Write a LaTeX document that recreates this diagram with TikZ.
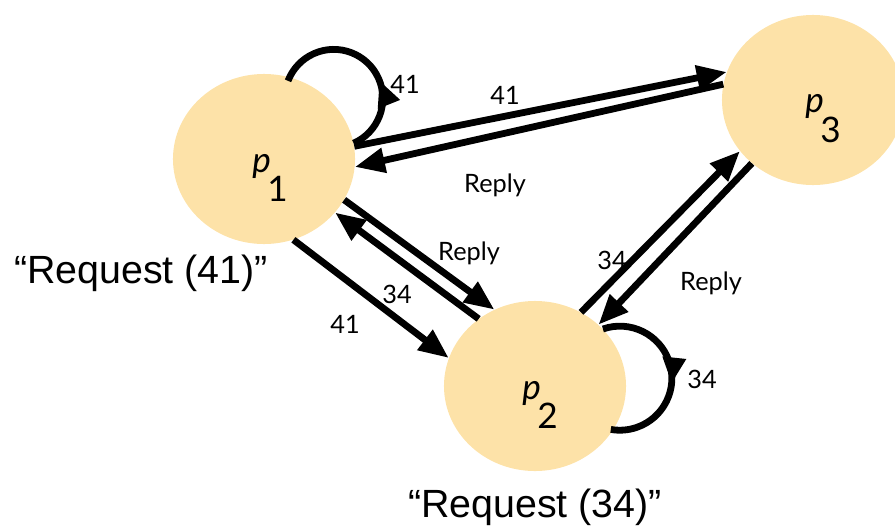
\documentclass[tikz,border=0pt]{standalone}
\usepackage{fontspec}
\setmainfont{Lato}
\newfontfamily\reqfont{Liberation Sans}
\usetikzlibrary{arrows.meta,shapes.geometric,decorations.markings}
\definecolor{peach}{RGB}{253,226,168}
\newcommand{\pname}[1]{{\itshape p}\kern-0.1em\raisebox{-0.85em}{#1}}
\tikzset{
	proc/.style={ellipse,fill=peach,minimum width=4.55cm,minimum height=4.25cm,inner sep=0pt},
	msg/.style={line width=0.17cm,-{Triangle[length=0.75cm,width=0.6cm]}},
	loopmsg/.style={line width=0.17cm,postaction={decorate},
		decoration={markings,mark=at position #1 with {\arrow{Triangle[length=0.65cm,width=0.55cm]}}}},
	lbl/.style={anchor=base,font=\fontsize{18}{20}\selectfont,inner sep=0pt},
	plbl/.style={font=\fontsize{25}{27}\selectfont,inner sep=0pt},
	req/.style={anchor=base,font=\reqfont\fontsize{28}{30}\selectfont,inner sep=0pt}
}
\begin{document}
\begin{tikzpicture}[x=0.025cm,y=-0.025cm]
		\useasboundingbox (0,0) rectangle (895,527);
		
		\node[proc] (p1) at (264,159) {};
		\node[proc] (p2) at (535,386) {};
		\node[proc] (p3) at (813,100) {};
		
		\node[plbl] (t1) at ([shift={(0.15cm,-0.475cm)}]p1.center) {\pname{1}};
		\node[plbl] (t2) at ([shift={(0.125cm,-0.475cm)}]p2.center) {\pname{2}};
		\node[plbl] (t3) at ([shift={(0.25cm,-0.475cm)}]p3.center) {\pname{3}};
		
		% p1 <-> p3
		\draw[msg] (p1.8) -- (p3.162);
		\draw[msg] (p3.170) -- (p1.-5);
		
		% p1 <-> p2
		\draw[msg] (p1.-27) -- (p2.118);
		\draw[msg] (p2.130) -- (p1.-37);
		\draw[msg] (p1.-70) -- (p2.162);
		
		% p2 <-> p3
		\draw[msg] (p2.58) -- (p3.215);
		\draw[msg] (p3.226) -- (p2.44);
		
		% self loops
		\draw[loopmsg=0.39] (p1.10) arc[start angle=-66,end angle=159,radius=1.225cm];
		\draw[loopmsg=0.55] (p2.40) arc[start angle=109,end angle=-100,radius=1.3cm];
		
		\node[lbl] (n41loop) at (405,93) {41};
		\node[lbl] (n41a) at (505,104) {41};
		\node[lbl] (reply31) at (495,192) {Reply};
		\node[lbl] (reply12) at (469,260) {Reply};
		\node[lbl] (n34a) at (397,303) {34};
		\node[lbl] (n41b) at (345,333) {41};
		\node[lbl] (n34b) at (612,269) {34};
		\node[lbl] (reply32) at (711,290) {Reply};
		\node[lbl] (n34loop) at (702,388) {34};
		
		\node[req] (req41) at (141,283) {“Request (41)”};
		\node[req] (req34) at (535,517) {“Request (34)”};
\end{tikzpicture}
\end{document}
